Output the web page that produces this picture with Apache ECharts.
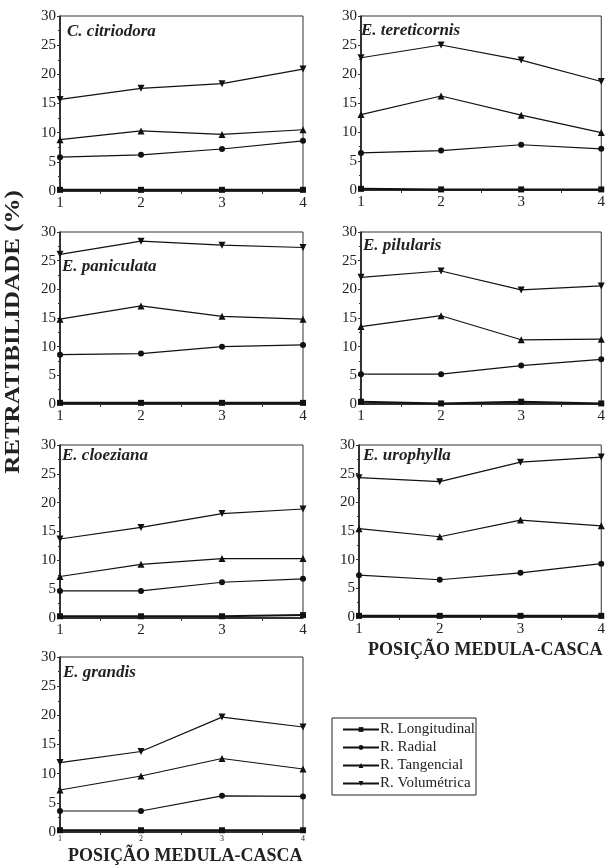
<!DOCTYPE html>
<html>
<head>
<meta charset="utf-8">
<script src="https://cdn.jsdelivr.net/npm/echarts@6/dist/echarts.min.js"></script>
<style>
html,body{margin:0;padding:0;background:#fff;}
#chart{width:608px;height:868px;}
</style>
</head>
<body>
<div id="chart"></div>
<script>
const positions = [1, 2, 3, 4];
const yTicks = [0, 5, 10, 15, 20, 25, 30];
const seriesNames = ['R. Longitudinal', 'R. Radial', 'R. Tangencial', 'R. Volumétrica'];
const speciesNames = ['C. citriodora', 'E. tereticornis', 'E. paniculata', 'E. pilularis', 'E. cloeziana', 'E. urophylla', 'E. grandis'];

// [Longitudinal, Radial, Tangencial, Volumétrica]
const citriodora   = [[0.2, 0.2, 0.2, 0.2], [5.8, 6.2, 7.2, 8.6], [8.8, 10.3, 9.7, 10.5], [15.7, 17.6, 18.4, 20.9]];
const tereticornis = [[0.2, 0.1, 0.1, 0.1], [6.4, 6.8, 7.8, 7.1], [13.0, 16.2, 12.9, 9.9], [22.8, 25.0, 22.4, 18.7]];
const paniculata   = [[0.2, 0.2, 0.2, 0.2], [8.6, 8.8, 10.0, 10.3], [14.8, 17.1, 15.3, 14.8], [26.1, 28.4, 27.7, 27.3]];
const pilularis    = [[0.4, 0.1, 0.4, 0.1], [5.2, 5.2, 6.7, 7.8], [13.5, 15.4, 11.2, 11.3], [22.1, 23.2, 19.9, 20.6]];
const cloeziana    = [[0.3, 0.3, 0.3, 0.5], [4.7, 4.7, 6.2, 6.8], [7.2, 9.3, 10.3, 10.3], [13.7, 15.7, 18.1, 18.9]];
const urophylla    = [[0.2, 0.2, 0.2, 0.2], [7.3, 6.5, 7.7, 9.3], [15.4, 14.0, 16.9, 15.9], [24.3, 23.6, 27.0, 27.9]];
const grandis      = [[0.3, 0.3, 0.3, 0.3], [3.6, 3.6, 6.2, 6.1], [7.2, 9.6, 12.6, 10.8], [11.9, 13.8, 19.7, 18.0]];

const speciesData = [citriodora, tereticornis, paniculata, pilularis, cloeziana, urophylla, grandis];

const grids = [
  {left: 60, top: 16, width: 243, height: 175},
  {left: 361, top: 16, width: 243, height: 174},
  {left: 60, top: 232, width: 243, height: 172},
  {left: 361, top: 232, width: 243, height: 172},
  {left: 60, top: 445, width: 243, height: 173},
  {left: 359, top: 445, width: 245, height: 172},
  {left: 60, top: 657, width: 243, height: 175}
];
const titlePos = [
  {left: 67, top: 23}, {left: 361, top: 22}, {left: 62, top: 258}, {left: 363, top: 237},
  {left: 62, top: 447}, {left: 363, top: 447}, {left: 63, top: 664}
];

const FONT = '"Liberation Serif", "DejaVu Serif", serif';
const symbols = ['rect', 'circle', 'triangle', 'triangle'];
const symbolSizes = [6, 6, 7, 7];
const symbolRot = [0, 0, 0, 180];

const option = {
  animation: false,
  backgroundColor: '#fff',
  title: speciesNames.map((n, i) => ({
    text: n, left: titlePos[i].left, top: titlePos[i].top, padding: 0,
    textStyle: {fontFamily: FONT, fontStyle: 'italic', fontWeight: 'bold', fontSize: 17, color: '#222'}
  })),
  grid: grids.map(g => Object.assign({show: true, borderColor: '#333', borderWidth: 1, backgroundColor: 'transparent'}, g)),
  xAxis: grids.map((g, i) => ({
    type: 'value', gridIndex: i, min: 1, max: 4, interval: 1,
    axisLine: {lineStyle: {color: '#111', width: 1.5}},
    axisTick: {show: false},
    minorTick: {show: true, splitNumber: 2, length: 3, lineStyle: {color: '#333'}},
    splitLine: {show: false},
    axisLabel: {fontFamily: FONT, fontSize: i === 6 ? 8 : 15, color: '#222', margin: i === 6 ? 3 : 5},
  })),
  yAxis: grids.map((g, i) => ({
    type: 'value', gridIndex: i, min: yTicks[0], max: yTicks[yTicks.length - 1], interval: 5,
    axisLine: {show: true, lineStyle: {color: '#111', width: 1.5}},
    axisTick: {show: true, length: 3, lineStyle: {color: '#333'}},
    minorTick: {show: true, splitNumber: 2, length: 2, lineStyle: {color: '#333'}},
    splitLine: {show: false},
    axisLabel: {fontFamily: FONT, fontSize: 15, color: '#222', margin: 4}
  })),
  legend: {
    data: seriesNames,
    orient: 'vertical',
    left: 332, top: 718,
    padding: [4, 1, 4, 10],
    itemGap: 3,
    itemWidth: 36, itemHeight: 6,
    borderColor: '#222', borderWidth: 1,
    textStyle: {fontFamily: FONT, fontSize: 15, color: '#222', padding: [0, 0, 0, -4]},
    selectedMode: false
  },
  graphic: [
    {type: 'text', x: 4, y: 332, rotation: Math.PI / 2, scaleX: 1.25, scaleY: 1,
     style: {text: 'RETRATIBILIDADE (%)', fontFamily: FONT, fontWeight: 'bold', fontSize: 20, fill: '#222',
             align: 'center', verticalAlign: 'top'}},
    {type: 'text', left: 68, top: 847,
     style: {text: 'POSIÇÃO MEDULA-CASCA', fontFamily: FONT, fontWeight: 'bold', fontSize: 18, fill: '#222'}},
    {type: 'text', left: 368, top: 641,
     style: {text: 'POSIÇÃO MEDULA-CASCA', fontFamily: FONT, fontWeight: 'bold', fontSize: 18, fill: '#222'}}
  ],
  series: []
};

speciesData.forEach((sd, gi) => {
  sd.forEach((vals, si) => {
    option.series.push({
      type: 'line', name: seriesNames[si], xAxisIndex: gi, yAxisIndex: gi,
      data: positions.map((p, k) => [p, vals[k]]),
      symbol: symbols[si], symbolSize: symbolSizes[si], symbolRotate: symbolRot[si],
      showAllSymbol: true,
      lineStyle: {color: '#111', width: si === 0 ? 2 : 1.2},
      itemStyle: {color: '#111'},
      clip: false
    });
  });
});

const chart = echarts.init(document.getElementById('chart'), null, {renderer: 'canvas'});
chart.setOption(option);
</script>
</body>
</html>
